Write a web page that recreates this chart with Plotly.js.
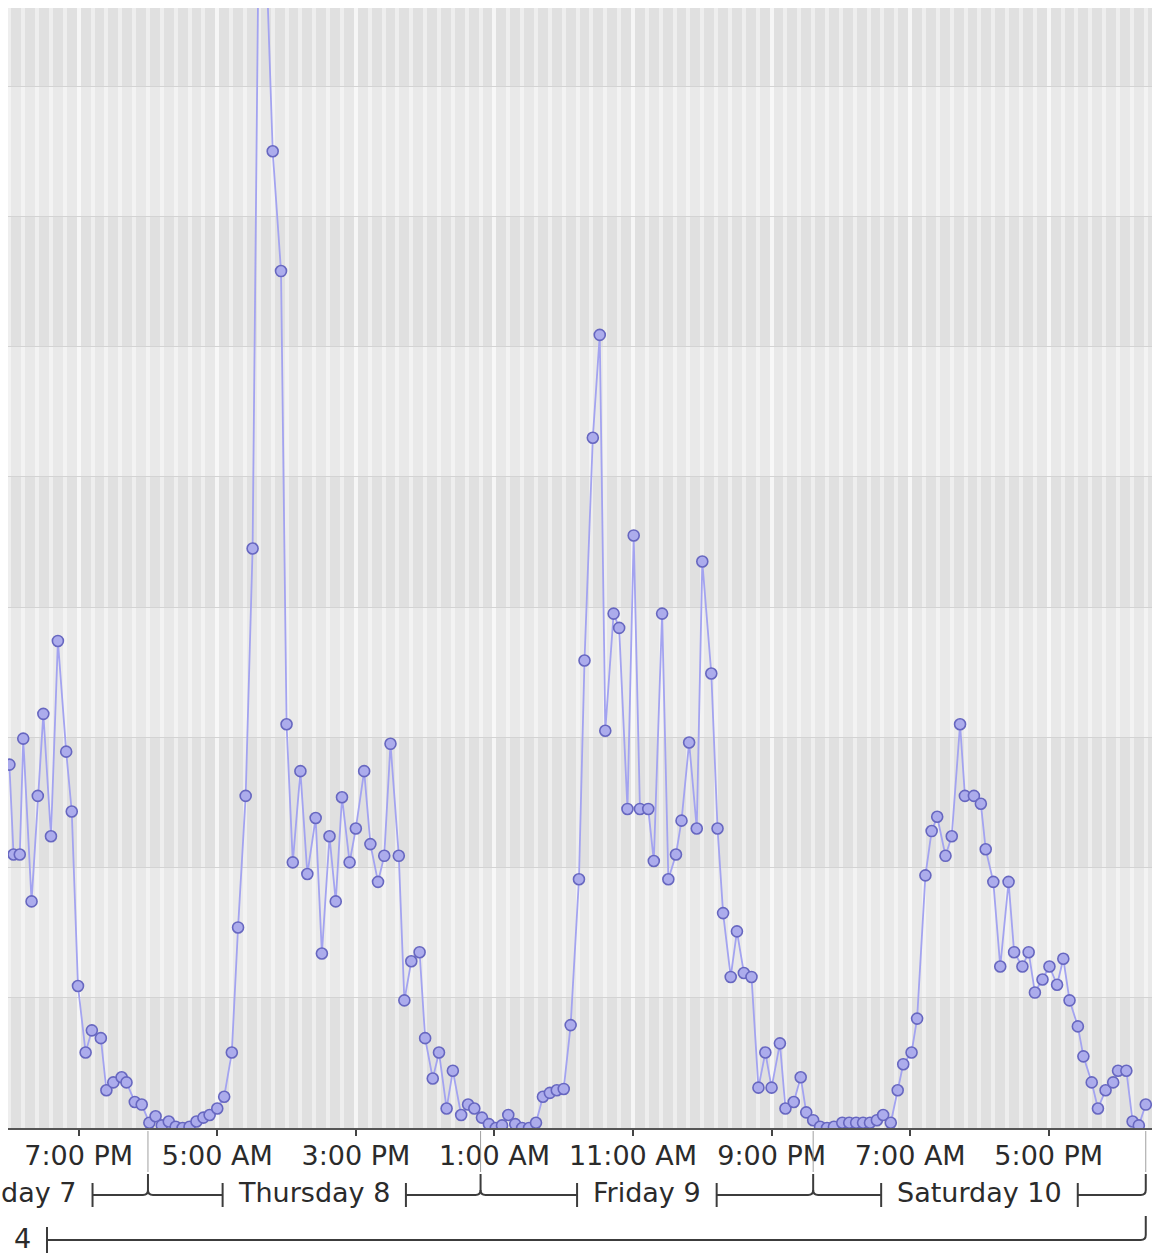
<!DOCTYPE html>
<html>
<head>
<meta charset="utf-8">
<script src="https://cdn.plot.ly/plotly-3.0.1.min.js"></script>
<style>
html,body{margin:0;padding:0;background:#ffffff;}
#chart{width:1155px;height:1253px;}
</style>
</head>
<body>
<div id="chart"></div>
<script>
// ---- DATA ----
// time of each reading, in hours since Wednesday 7, 00:00
const hours = [
  14.0, 14.3, 14.75, 15.0, 15.6, 16.05, 16.45, 17.0, 17.5, 18.1,
  18.5, 18.95, 19.5, 19.95, 20.6, 21.0, 21.5, 22.1, 22.45, 23.05,
  23.55, 24.1, 24.55, 25.0, 25.5, 26.0, 26.5, 27.0, 27.5, 28.0,
  28.45, 29.0, 29.5, 30.05, 30.5, 31.05, 31.55, 32.0, 32.5, 33.0,
  33.6, 34.0, 34.45, 35.0, 35.5, 36.1, 36.55, 37.1, 37.55, 38.0,
  38.55, 39.0, 39.6, 40.05, 40.6, 41.05, 41.5, 42.1, 42.5, 43.0,
  43.6, 44.0, 44.55, 45.0, 45.55, 46.0, 46.6, 47.1, 47.55, 48.1,
  48.6, 49.1, 49.55, 50.0, 50.5, 51.0, 51.5, 52.0, 52.5, 53.0,
  53.5, 54.0, 54.5, 55.1, 55.5, 56.1, 56.6, 57.0, 57.6, 58.0,
  58.6, 59.05, 59.5, 60.1, 60.5, 61.1, 61.55, 62.1, 62.5, 63.05,
  63.6, 64.0, 64.65, 65.1, 65.5, 66.05, 66.5, 67.0, 67.55, 68.05,
  68.55, 69.0, 69.6, 70.0, 70.6, 71.1, 71.5, 72.0, 72.5, 73.0,
  73.5, 74.1, 74.6, 75.1, 75.6, 76.1, 76.6, 77.05, 77.6, 78.1,
  78.5, 79.1, 79.5, 80.1, 80.55, 80.95, 81.55, 82.0, 82.6, 82.95,
  83.6, 84.1, 84.45, 85.0, 85.5, 86.1, 86.5, 87.1, 87.55, 88.0,
  88.55, 89.05, 89.6, 90.05, 90.5, 91.1, 91.5, 92.1, 92.55, 93.1,
  93.65, 94.0, 94.6, 95.05, 95.5, 96.0
];
const values = [
  27.9, 21.0, 21.0, 29.9, 17.4, 25.5, 31.8, 22.4, 37.4, 28.9,
  24.3, 10.9, 5.8, 7.5, 6.9, 2.9, 3.5, 3.9, 3.5, 2.0,
  1.8, 0.4, 0.9, 0.2, 0.5, 0.1, 0.0, 0.1, 0.5, 0.8,
  1.0, 1.5, 2.4, 5.8, 15.4, 25.5, 44.5, 93.0, 91.0, 75.0,
  65.8, 31.0, 20.4, 27.4, 19.5, 23.8, 13.4, 22.4, 17.4, 25.4,
  20.4, 23.0, 27.4, 21.8, 18.9, 20.9, 29.5, 20.9, 9.8, 12.8,
  13.5, 6.9, 3.8, 5.8, 1.5, 4.4, 1.0, 1.8, 1.5, 0.8,
  0.3, 0.0, 0.2, 1.0, 0.3, 0.0, 0.0, 0.4, 2.4, 2.7,
  2.9, 3.0, 7.9, 19.1, 35.9, 53.0, 60.9, 30.5, 39.5, 38.4,
  24.5, 45.5, 24.5, 24.5, 20.5, 39.5, 19.1, 21.0, 23.6, 29.6,
  23.0, 43.5, 34.9, 23.0, 16.5, 11.6, 15.1, 11.9, 11.6, 3.1,
  5.8, 3.1, 6.5, 1.5, 2.0, 3.9, 1.2, 0.6, 0.1, 0.0,
  0.1, 0.4, 0.4, 0.4, 0.4, 0.4, 0.6, 1.0, 0.4, 2.9,
  4.9, 5.8, 8.4, 19.4, 22.8, 23.9, 20.9, 22.4, 31.0, 25.5,
  25.5, 24.9, 21.4, 18.9, 12.4, 18.9, 13.5, 12.4, 13.5, 10.4,
  11.4, 12.4, 11.0, 13.0, 9.8, 7.8, 5.5, 3.5, 1.5, 2.9,
  3.5, 4.4, 4.4, 0.5, 0.2, 1.8
];
// hour-of-axis tick labels
const tickHours  = [19, 29, 39, 49, 59, 69, 79, 89];
const tickLabels = ['7:00 PM', '5:00 AM', '3:00 PM', '1:00 AM', '11:00 AM', '9:00 PM', '7:00 AM', '5:00 PM'];
// day band (first label is only partly visible in the picture: its visible part is kept)
const dayLabels = ['day 7', 'Thursday 8', 'Friday 9', 'Saturday 10'];
const dayStartHours = [0, 24, 48, 72];
// third band (only its last character is visible)
const periodLabel = '4';
const periodEndHour = 96;

// ---- LAYOUT HELPERS ----
const X0 = 13.9, X1 = 96.45;           // visible axis range (hours)
const W = 1155, H = 1253;
const ML = 8, MR = 3, MT = 8, MB = 125;
const PW = W - ML - MR, PH = H - MT - MB;
const PXH = PW / (X1 - X0);            // pixels per hour
const hx = h => (h - X0) / (X1 - X0);   // hours -> paper x
const py = p => (H - MB - p) / PH;      // page pixel y -> paper y
const dpx = px => px / PW;              // pixel width -> paper width

const FONT = 'DejaVu Sans';
const FS = 27;
const TXT = '#2b2b2b';
const BR = '#3c3c3c';

const cv = document.createElement('canvas');
const ctx = cv.getContext('2d');
ctx.font = FS + 'px "' + FONT + '"';
const tw = t => ctx.measureText(t).width;

const GAP = 16;
const r = 5 / PXH;       // curl radius in hours

const shapes = [];
// alternating horizontal bands
for (let k = 0; k < 9; k += 2) {
  shapes.push({type: 'rect', xref: 'paper', yref: 'y', x0: 0, x1: 1, y0: k * 10, y1: k * 10 + 10,
    fillcolor: '#e0e0e0', line: {width: 0}, layer: 'below'});
}
const line = (h0, p0, h1, p1, c, w) => ({type: 'line', xref: 'paper', yref: 'paper',
  x0: hx(h0), y0: py(p0), x1: hx(h1), y1: py(p1), line: {color: c || BR, width: w || 2}});
const path = d => ({type: 'path', xref: 'paper', yref: 'paper', path: d, line: {color: BR, width: 2}});
const pt = (h, p) => hx(h).toFixed(5) + ',' + py(p).toFixed(5);

const annotations = [];
// day band
const Y2 = 1195;
dayLabels.forEach((name, i) => {
  const S = dayStartHours[i], E = S + 24, C = S + 12;
  let lt, rt;
  if (i === 0) {
    // partly visible day: label ends just before its right tick
    rt = 20.0;
    annotations.push({xref: 'paper', yref: 'paper', x: hx(rt) - dpx(GAP - 1), y: py(1192), text: name, showarrow: false,
      xanchor: 'right', yanchor: 'middle', font: {family: FONT, size: FS, color: TXT}});
  } else {
    const hw = (tw(name) / 2 + GAP) / PXH;
    lt = C - hw; rt = C + hw;
    annotations.push({xref: 'paper', yref: 'paper', x: hx(C), y: py(1192), text: name, showarrow: false,
      xanchor: 'center', yanchor: 'middle', font: {family: FONT, size: FS, color: TXT}});
    shapes.push(line(lt, 1183, lt, 1207));
    shapes.push(path('M' + pt(S, Y2 - 5) + ' Q' + pt(S, Y2) + ' ' + pt(S + r, Y2) + ' L' + pt(lt, Y2)));
  }
  shapes.push(line(rt, 1183, rt, 1207));
  shapes.push(path('M' + pt(rt, Y2) + ' L' + pt(E - r, Y2) + ' Q' + pt(E, Y2) + ' ' + pt(E, Y2 - 5)));
  shapes.push(line(E, Y2 - 5, E, 1174));
  shapes.push(line(E, 1131, E, 1172, '#a0a0a0', 1));
});
// third band
const Y3 = 1240;
const pTick = X0 + 39 / PXH;
annotations.push({xref: 'paper', yref: 'paper', x: hx(pTick) - dpx(GAP - 2), y: py(1238), text: periodLabel,
  showarrow: false, xanchor: 'right', yanchor: 'middle', font: {family: FONT, size: FS, color: TXT}});
shapes.push(line(pTick, 1227, pTick, 1253));
shapes.push(path('M' + pt(pTick, Y3) + ' L' + pt(periodEndHour - r, Y3) + ' Q' + pt(periodEndHour, Y3) + ' ' +
  pt(periodEndHour, Y3 - 5) + ' L' + pt(periodEndHour, 1216)));

const trace = {
  x: hours, y: values, type: 'scatter', mode: 'lines+markers',
  line: {color: '#a3a3f0', width: 1.8},
  marker: {symbol: 'circle', size: 11, color: '#acacec', line: {color: '#6767c0', width: 1.6}},
  cliponaxis: true, hoverinfo: 'x+y'
};

const layout = {
  width: W, height: H,
  margin: {l: ML, r: MR, t: MT, b: MB},
  paper_bgcolor: '#ffffff', plot_bgcolor: '#e9e9e9',
  showlegend: false,
  font: {family: FONT, color: TXT},
  xaxis: {
    range: [X0, X1], tickmode: 'array', tickvals: tickHours, ticktext: tickLabels,
    ticks: 'outside', ticklen: 6, tickwidth: 2, tickcolor: '#444',
    ticklabelstandoff: -3,
    tickfont: {family: FONT, size: FS, color: TXT},
    showline: true, linecolor: '#555', linewidth: 2,
    showgrid: true, gridcolor: 'rgba(255,255,255,0.45)', gridwidth: 4,
    minor: {tickmode: 'linear', tick0: 0, dtick: 1, showgrid: true, gridcolor: 'rgba(255,255,255,0.45)', gridwidth: 4, ticks: ''},
    zeroline: false, fixedrange: true
  },
  yaxis: {
    range: [0, 86], tickmode: 'linear', tick0: 0, dtick: 10, showticklabels: false, ticks: '',
    showgrid: true, gridcolor: '#d3d3d3', gridwidth: 1, zeroline: false, showline: false, fixedrange: true
  },
  shapes: shapes,
  annotations: annotations
};

Plotly.newPlot('chart', [trace], layout, {staticPlot: true, displayModeBar: false});
</script>
</body>
</html>
